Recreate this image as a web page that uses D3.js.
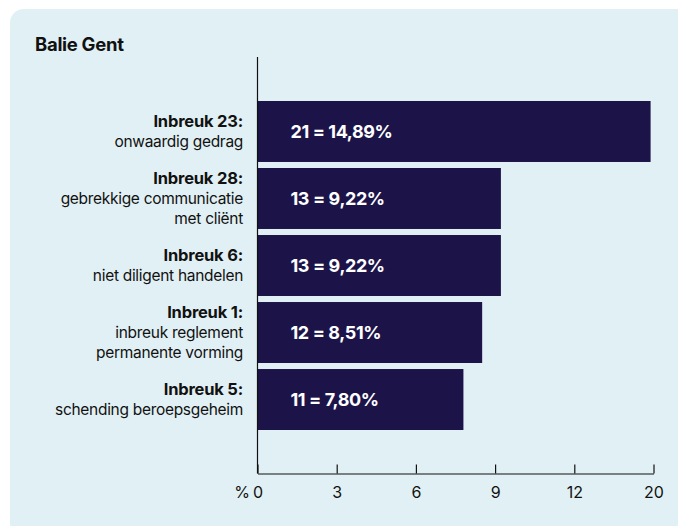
<!DOCTYPE html>
<html>
<head>
<meta charset="utf-8">
<script src="https://cdn.jsdelivr.net/npm/d3@7"></script>
<style>
  body { margin: 0; background: #ffffff; }
  svg { display: block; font-family: Inter, "Noto Sans", sans-serif; }
</style>
</head>
<body>
<svg id="chart" width="678" height="526"></svg>
<script>
// chart data
var title = "Balie Gent";
var headings = ["Inbreuk 23:", "Inbreuk 28:", "Inbreuk 6:", "Inbreuk 1:", "Inbreuk 5:"];
var descriptions = [
  ["onwaardig gedrag"],
  ["gebrekkige communicatie", "met cliënt"],
  ["niet diligent handelen"],
  ["inbreuk reglement", "permanente vorming"],
  ["schending beroepsgeheim"]
];
var counts = [21, 13, 13, 12, 11];
var percents = [14.89, 9.22, 9.22, 8.51, 7.80];
var tickValues = [0, 3, 6, 9, 12, 15];
var tickLabels = ["0", "3", "6", "9", "12", "20"];

var svg = d3.select("#chart");

// background panel
svg.append("rect")
  .attr("x", 10).attr("y", 9)
  .attr("width", 700).attr("height", 540)
  .attr("rx", 14)
  .attr("fill", "#e1f0f4");

svg.append("text")
  .attr("x", 35).attr("y", 51)
  .attr("font-size", 18.5)
  .attr("font-weight", 700)
  .attr("letter-spacing", -0.3)
  .attr("fill", "#111")
  .text(title);

var margin = { top: 101, left: 257.5, bottom: 473.5 };

var x = d3.scaleLinear().domain([0, 15]).range([margin.left, 653.5]);
var y = d3.scaleBand()
  .domain(d3.range(headings.length))
  .range([101, 430])
  .paddingInner(0.09)
  .paddingOuter(0);

// bars
svg.selectAll(".bar")
  .data(percents)
  .enter()
  .append("rect")
  .attr("class", "bar")
  .attr("x", x(0))
  .attr("y", function (d, i) { return y(i); })
  .attr("width", function (d) { return x(d) - x(0); })
  .attr("height", y.bandwidth())
  .attr("fill", "#1c1449");

// value labels inside bars
svg.selectAll(".value")
  .data(percents)
  .enter()
  .append("text")
  .attr("class", "value")
  .attr("x", x(0) + 33)
  .attr("y", function (d, i) { return y(i) + y.bandwidth() / 2; })
  .attr("dy", "0.36em")
  .attr("font-size", 18)
  .attr("font-weight", 700)
  .attr("letter-spacing", -0.4)
  .attr("fill", "#ffffff")
  .text(function (d, i) { return counts[i] + " = " + d3.format(".2f")(d).replace(".", ",") + "%"; });

// category labels, right aligned, centred on the bar
var labels = svg.selectAll(".cat")
  .data(headings)
  .enter()
  .append("text")
  .attr("class", "cat")
  .attr("text-anchor", "end")
  .attr("fill", "#111");

labels.each(function (d, i) {
  var lines = [d].concat(descriptions[i]);
  var lh = 20;
  var cy = y(i) + y.bandwidth() / 2 - (lines.length - 1) * lh / 2;
  var t = d3.select(this);
  lines.forEach(function (l, j) {
    t.append("tspan")
      .attr("x", 243)
      .attr("y", cy + j * lh)
      .attr("dy", "0.36em")
      .attr("font-size", j === 0 ? 16.5 : 15.5)
      .attr("letter-spacing", j === 0 ? -0.2 : -0.3)
      .attr("font-weight", j === 0 ? 700 : 400)
      .text(l);
  });
});

// y axis line
svg.append("line")
  .attr("x1", margin.left).attr("x2", margin.left)
  .attr("y1", 57).attr("y2", margin.bottom)
  .attr("stroke", "#111").attr("stroke-width", 1.2);

// x axis, ticks pointing up
var xAxis = svg.append("g")
  .attr("transform", "translate(0," + margin.bottom + ")")
  .call(d3.axisBottom(x)
    .tickValues(tickValues)
    .tickSizeInner(-9)
    .tickSizeOuter(0)
    .tickFormat(function (d, i) { return tickLabels[i]; }));

xAxis.select(".domain").attr("stroke", "#111").attr("stroke-width", 1.2);
xAxis.selectAll(".tick line").attr("stroke", "#111").attr("stroke-width", 1.2);
xAxis.selectAll(".tick text")
  .attr("y", 19)
  .attr("dy", "0.36em")
  .attr("font-family", "Inter, 'Noto Sans', sans-serif")
  .attr("font-size", 16)
  .attr("fill", "#111");

svg.append("text")
  .attr("x", 242).attr("y", margin.bottom + 19)
  .attr("dy", "0.36em")
  .attr("text-anchor", "middle")
  .attr("font-size", 16)
  .attr("fill", "#111")
  .text("%");
</script>
</body>
</html>
